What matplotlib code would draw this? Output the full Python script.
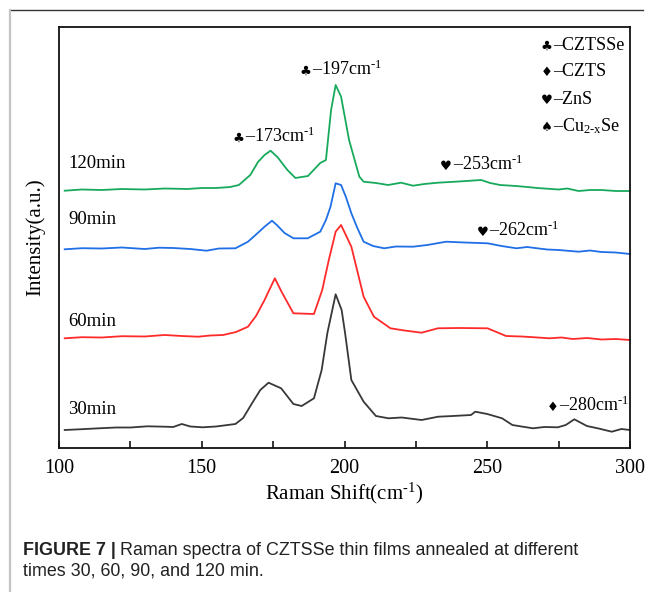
import numpy as np
import matplotlib
matplotlib.use("Agg")
import matplotlib.pyplot as plt
from matplotlib.lines import Line2D
from matplotlib.ticker import MultipleLocator

plt.rcParams['font.family'] = 'Liberation Serif'
plt.rcParams['mathtext.fontset'] = 'custom'
plt.rcParams['mathtext.rm'] = 'Liberation Serif'
plt.rcParams['mathtext.it'] = 'Liberation Serif:italic'

# data, Raman shift in cm-1, intensity in a.u. (offset stacked)
shift_30 = [102, 108, 114, 120, 125, 131, 137.1, 140, 143, 146, 150.3, 155, 161.8, 164.5, 167.6,
            170.5, 173.4, 177.8, 182.1, 185, 189.3, 192, 194, 196.9, 199, 200.2, 202.4, 206.7,
            211, 215.4, 220, 227, 232.8, 238, 244.3, 245.8, 250, 255.2, 258.8, 262, 266, 270,
            274.7, 277.5, 280.5, 284.9, 289, 293.6, 297, 300]
int_30 = [18, 18.8, 19.7, 20.5, 20.5, 21.7, 21.3, 21, 24, 21.5, 20.7, 21.5, 24, 30, 44.7,
          58, 65.3, 59.7, 44, 42, 49.7, 78, 115, 153.7, 138, 115, 68, 46.3,
          32, 29.7, 30.5, 28, 31.3, 32, 33, 36.3, 34, 29.7, 23, 21.5, 19.7, 21,
          20.7, 23, 28.7, 22, 19.5, 16.3, 19, 18]

shift_60 = [102, 108, 115, 122, 130, 137, 143, 148.7, 153, 157.5, 162, 166.2, 169, 172, 175.6,
            178, 182.1, 189.3, 192.2, 194.5, 196.9, 198.8, 202.4, 206.7, 210.3, 216.1, 221, 227,
            232.7, 240, 250.1, 256.6, 262, 265, 271.8, 276, 280, 285, 290, 295, 300]
int_60 = [109.7, 110.8, 110.5, 111.8, 111.5, 113, 112, 111.3, 112.5, 113, 116, 121.3, 132, 148,
          169.7, 156, 134.7, 134, 158, 188, 216.3, 223, 201.3, 151.3, 131.3, 119.7, 117.5,
          115.3, 119.7, 120, 119.7, 112, 111.5, 111, 109.7, 110.5, 109, 110, 108.5, 109, 108]

shift_90 = [102, 108, 115, 122, 130, 135, 140, 146, 151.7, 156, 161.8, 166.2, 170, 172, 174.6,
            176.3, 179, 182.1, 187.1, 191.5, 193.5, 195.1, 196.9, 198.8, 200.5, 202.4, 204.5,
            206.7, 210, 213.9, 218, 224, 229, 235.6, 242, 250.1, 255, 260.2, 264, 267.5, 271,
            275, 282, 286, 290, 295, 300]
int_90 = [198.7, 199.8, 199.5, 200.5, 199, 200.3, 200, 199, 197.3, 199.5, 199.7, 206.3, 216, 221.3,
          227.3, 223, 215, 209.7, 209.7, 216.3, 228, 241.3, 264.7, 263, 251, 234.7, 220,
          206.3, 202, 199.7, 201.5, 201.3, 203, 206.3, 205.5, 204.7, 202, 199.7, 201, 199.7, 198.5,
          198, 196.3, 197.5, 196, 195.5, 194]

shift_120 = [102, 108, 115, 122, 130, 137, 145, 150, 155, 160, 163, 167, 169.7, 172, 174.1, 176.5,
             180, 182.8, 187.2, 191.5, 193.5, 195.3, 196.9, 198.8, 201.6, 205.2, 206.7, 211, 215.3,
             219.8, 224, 228, 232.7, 240, 247.9, 251, 254.5, 260, 264, 267.5, 275, 278, 282,
             286, 290, 295, 300]
int_120 = [257.3, 258.5, 258, 259, 258.5, 259.5, 259, 260, 260, 261, 263, 273, 286, 293, 297.3,
           291, 278, 270, 272, 285, 288, 338, 363, 351.3, 308, 271.3, 266.3, 265, 263,
           265.3, 262.3, 264, 265.3, 266.5, 268, 265, 263, 262, 261, 260, 258.5, 259.5, 257,
           258, 258, 257, 257]

series = [
    (shift_30, int_30, '#383838', '30min', 38),
    (shift_60, int_60, '#ff2a2a', '60min', 126),
    (shift_90, int_90, '#1f6fe6', '90min', 228),
    (shift_120, int_120, '#18aa5c', '120min', 285),
]

peak_labels = [
    ('\u2663', '173', 160.9, 306),
    ('\u2663', '197', 184.4, 373),
    ('\u2665', '253', 233.5, 278),
    ('\u2665', '262', 246.4, 211.5),
    ('\u2666', '280', 270.9, 37),
]

legend_items = [
    ('\u2663', 'CZTSSe', 398),
    ('\u2666', 'CZTS', 371.5),
    ('\u2665', 'ZnS', 344.5),
    ('\u2660', r'Cu$_{\text{2-x}}$Se', 317),
]

fig = plt.figure(figsize=(6.47, 5.92), dpi=100)
ax = fig.add_axes([59 / 647, 1 - 448 / 592, 571 / 647, 421 / 592])
renderer = fig.canvas.get_renderer()

ax.set_xlim(100, 300)
ax.set_ylim(0, 421)


def sym_text(x, y, sym, rest, size=13):
    # small card-suit glyph, then the text right after it on the same baseline
    t = ax.text(x, y, sym, family='DejaVu Sans', fontsize=9.5, va='baseline', ha='left')
    bb = t.get_window_extent(renderer)
    xd = ax.transData.inverted().transform((bb.x1 + 0.5, 0))[0]
    ax.text(xd, y, '\u2013' + rest, fontsize=size, va='baseline', ha='left')


for x, y, c, lab, ly in series:
    ax.plot(x, y, color=c, linewidth=1.3)
    ax.text(103.2, ly, lab, fontsize=13.5, va='center', ha='left')

for sym, val, tx, ty in peak_labels:
    sym_text(tx, ty, sym, val + r'cm$^{\text{-1}}$')

for sym, name, ty in legend_items:
    sym_text(268.8, ty, sym, name)

ax.xaxis.set_major_locator(MultipleLocator(50))
ax.xaxis.set_minor_locator(MultipleLocator(25))
ax.tick_params(axis='x', which='both', direction='in', length=5, width=1.1,
               labelsize=14.5, pad=8, top=False)
ax.set_yticks([])
for s in ax.spines.values():
    s.set_linewidth(1.3)
    s.set_color('#111111')

ax.set_xlabel(r'Raman Shift(cm$^{\text{-1}}$)', fontsize=15, labelpad=2)
ax.set_ylabel('Intensity(a.u.)', fontsize=15, labelpad=10)

# card frame
fig.add_artist(Line2D([10 / 647, 643 / 647], [1 - 10 / 592, 1 - 10 / 592],
                      color='#333333', linewidth=1.0))
fig.add_artist(Line2D([9.5 / 647, 9.5 / 647], [0, 1 - 10 / 592],
                      color='#c4c4c4', linewidth=1.6))

# caption
cap_size = 12.9
t1 = fig.text(23 / 647, 1 - 555 / 592, 'FIGURE 7 |', family='Liberation Sans',
              weight='bold', fontsize=cap_size, color='#222222', va='baseline')
bb = t1.get_window_extent(renderer)
fig.text(bb.x1 / 647 + 4 / 647, 1 - 555 / 592,
         'Raman spectra of CZTSSe thin films annealed at different',
         family='Liberation Sans', fontsize=cap_size, color='#222222', va='baseline')
fig.text(23 / 647, 1 - 575 / 592, 'times 30, 60, 90, and 120 min.',
         family='Liberation Sans', fontsize=cap_size, color='#222222', va='baseline')

fig.savefig('out.png', dpi=100)
